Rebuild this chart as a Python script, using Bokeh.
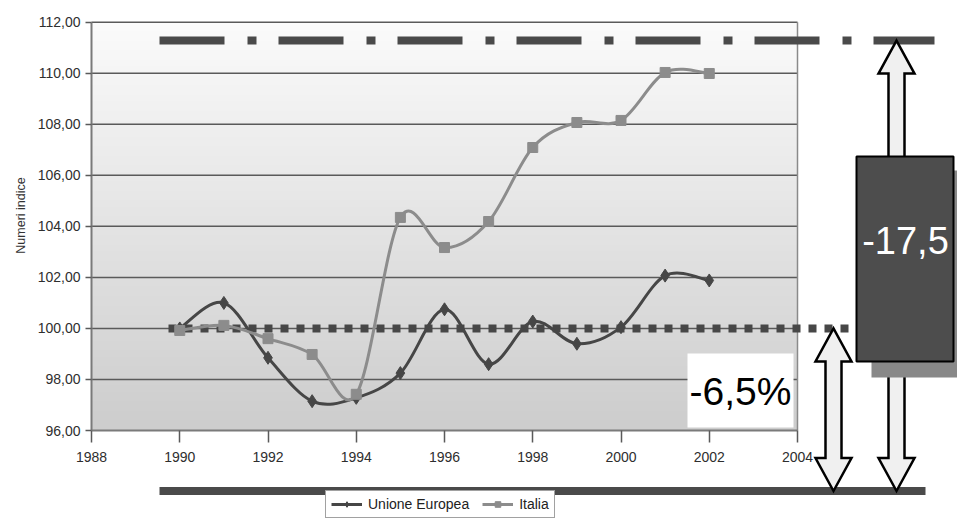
import numpy as np
from bokeh.plotting import figure
from bokeh.models import Range1d, LinearAxis, FixedTicker, Legend, LegendItem
from bokeh.core.properties import value
from bokeh.embed import file_html
from bokeh.resources import INLINE

# --- data -------------------------------------------------------------------
years = [1990, 1991, 1992, 1993, 1994, 1995, 1996, 1997, 1998, 1999, 2000, 2001, 2002]
unione_europea = [100.00, 101.00, 98.85, 97.15, 97.28, 98.25, 100.75, 98.60, 100.27, 99.40, 100.05, 102.07, 101.88]
italia = [99.92, 100.12, 99.60, 98.98, 97.42, 104.35, 103.17, 104.19, 107.09, 108.07, 108.15, 110.03, 109.99]

x_ticks = [1988, 1990, 1992, 1994, 1996, 1998, 2000, 2002, 2004]
x_tick_labels = ["1988", "1990", "1992", "1994", "1996", "1998", "2000", "2002", "2004"]
y_ticks = [96, 98, 100, 102, 104, 106, 108, 110, 112]
y_tick_labels = ["96,00", "98,00", "100,00", "102,00", "104,00", "106,00", "108,00", "110,00", "112,00"]

# reference levels used by the annotations
base_level = 100.0        # dotted line
top_level = 111.28        # dash-dot line
floor_level = 93.63       # thick bar under the axis
gap_small = "-6,5%"
gap_large = "-17,5"

# --- canvas geometry (pixels per data unit) -------------------------------
W, H = 957, 519
PX_X = 44.125
PX_Y = 25.52
X_START = 1988 - 91 / PX_X
Y_END = 112 + 21.7 / PX_Y


def sx(px):
    return X_START + px / PX_X


def sy(py):
    return Y_END - py / PX_Y


p = figure(width=W, height=H, output_backend="svg", toolbar_location=None,
           x_range=Range1d(X_START, X_START + W / PX_X),
           y_range=Range1d(Y_END - H / PX_Y, Y_END),
           x_axis_type=None, y_axis_type=None,
           min_border=0, outline_line_color=None,
           background_fill_color="white", border_fill_color="white")

FONT_NAME = "Liberation Sans"
FONT = value(FONT_NAME)

# plot-area gradient (light at the top, grey at the bottom)
rows = 128
shade = np.linspace(205, 251, rows).astype(np.uint32)
img = np.empty((rows, 2), dtype=np.uint32)
view = img.view(dtype=np.uint8).reshape((rows, 2, 4))
for k in range(rows):
    view[k, :, 0] = shade[k]
    view[k, :, 1] = shade[k]
    view[k, :, 2] = shade[k]
    view[k, :, 3] = 255
p.image_rgba(image=[img], x=x_ticks[0], y=y_ticks[0],
             dw=x_ticks[-1] - x_ticks[0], dh=y_ticks[-1] - y_ticks[0])

# horizontal grid lines across the plot area only
p.segment(x0=[x_ticks[0]] * (len(y_ticks) - 1), x1=[x_ticks[-1]] * (len(y_ticks) - 1),
          y0=y_ticks[1:], y1=y_ticks[1:], line_color="#5a5a5a", line_width=1.5)
# right border of the plot area
p.segment(x0=[x_ticks[-1]], x1=[x_ticks[-1]], y0=[y_ticks[0]], y1=[y_ticks[-1]],
          line_color="#8a8a8a", line_width=1.5)

# axes drawn at fixed data positions
xaxis = LinearAxis(fixed_location=y_ticks[0], bounds=(x_ticks[0], x_ticks[-1]),
                   ticker=FixedTicker(ticks=x_ticks),
                   major_label_overrides=dict(zip(x_ticks, x_tick_labels)))
yaxis = LinearAxis(fixed_location=x_ticks[0], bounds=(y_ticks[0], y_ticks[-1]),
                   ticker=FixedTicker(ticks=y_ticks),
                   major_label_overrides=dict(zip(y_ticks, y_tick_labels)))
for ax in (xaxis, yaxis):
    ax.axis_line_color = "#7a7a7a"
    ax.axis_line_width = 2
    ax.major_tick_line_color = "#5a5a5a"
    ax.major_tick_line_width = 1.5
    ax.minor_tick_line_color = None
    ax.major_tick_in = 0
    ax.major_label_text_font = FONT_NAME
    ax.major_label_text_color = "#2e2e2e"
xaxis.major_tick_out = 12
xaxis.major_label_standoff = 9
xaxis.major_label_text_font_size = "14px"
yaxis.major_tick_out = 6
yaxis.major_label_standoff = 5
yaxis.major_label_text_font_size = "14px"
p.add_layout(xaxis, "below")
p.add_layout(yaxis, "left")

p.text(x=[sx(20)], y=[sy(215)], text=["Numeri indice"], angle=np.pi / 2,
       text_align="center", text_baseline="middle", text_font=FONT,
       text_font_size="12.5px", text_color="#333333")

# dotted reference at 100
p.line(x=[sx(168), sx(858)], y=[base_level, base_level], line_color="#474747",
       line_width=8, line_dash="8 8", line_cap="butt")


def smooth(xs, ys, t=1 / 6):
    """Cubic Bezier pieces passing through every point (Catmull-Rom style)."""
    n = len(xs)
    out = dict(x0=[], y0=[], x1=[], y1=[], cx0=[], cy0=[], cx1=[], cy1=[])
    for i in range(n - 1):
        a, b = max(i - 1, 0), min(i + 2, n - 1)
        out["x0"].append(xs[i]); out["y0"].append(ys[i])
        out["x1"].append(xs[i + 1]); out["y1"].append(ys[i + 1])
        out["cx0"].append(xs[i] + (xs[i + 1] - xs[a]) * t)
        out["cy0"].append(ys[i] + (ys[i + 1] - ys[a]) * t)
        out["cx1"].append(xs[i + 1] - (xs[b] - xs[i]) * t)
        out["cy1"].append(ys[i + 1] - (ys[b] - ys[i]) * t)
    return out


UE_COLOR = "#464646"
IT_COLOR = "#8c8c8c"

ue_line = p.bezier(line_color=UE_COLOR, line_width=3, **smooth(years, unione_europea))
it_line = p.bezier(line_color=IT_COLOR, line_width=3, **smooth(years, italia))
ue_pts = p.scatter(years, unione_europea, marker="diamond", size=13,
                   fill_color=UE_COLOR, line_color=UE_COLOR)
it_pts = p.scatter(years, italia, marker="square", size=10,
                   fill_color=IT_COLOR, line_color=IT_COLOR)

# small gap label in a white box
p.quad(left=[sx(687)], right=[sx(793)], top=[sy(353)], bottom=[sy(427)],
       fill_color="white", line_color=None)
p.text(x=[sx(740)], y=[sy(391)], text=[gap_small], text_align="center",
       text_baseline="middle", text_font=FONT,
       text_font_size="39px", text_color="black")

# top dash-dot line and bottom bar
p.line(x=[sx(159), sx(934)], y=[top_level, top_level], line_color="#4a4a4a",
       line_width=8, line_dash="65 23 9 22", line_cap="butt")
p.line(x=[sx(159), sx(925)], y=[floor_level, floor_level], line_color="#4a4a4a",
       line_width=8, line_cap="butt")

# block arrows
SW, HW, HL = 8, 18, 33


def block_arrow(xc_px, y_top, y_bot, up=True, down=True):
    xc = sx(xc_px)
    sw, hw, hl = SW / PX_X, HW / PX_X, HL / PX_Y
    pts = []
    if up:
        pts += [(xc, y_top), (xc + hw, y_top - hl), (xc + sw, y_top - hl)]
    else:
        pts += [(xc - sw, y_top), (xc + sw, y_top)]
    if down:
        pts += [(xc + sw, y_bot + hl), (xc + hw, y_bot + hl), (xc, y_bot),
                (xc - hw, y_bot + hl), (xc - sw, y_bot + hl)]
    else:
        pts += [(xc + sw, y_bot), (xc - sw, y_bot)]
    if up:
        pts += [(xc - sw, y_top - hl), (xc - hw, y_top - hl)]
    return [q[0] for q in pts], [q[1] for q in pts]


arrows = [block_arrow(833, base_level, floor_level),
          block_arrow(896, top_level, sy(200), up=True, down=False),
          block_arrow(896, sy(330), floor_level, up=False, down=True)]
p.patches(xs=[a[0] for a in arrows], ys=[a[1] for a in arrows],
          fill_color="#f0f0f0", line_color="black", line_width=2.5, line_join="miter")

# large gap box with drop shadow
p.quad(left=[sx(871)], right=[sx(975)], top=[sy(170)], bottom=[sy(377)],
       fill_color="#888888", line_color=None)
p.quad(left=[sx(856)], right=[sx(953)], top=[sy(156)], bottom=[sy(361)],
       fill_color="#4d4d4d", line_color="black", line_width=2)
p.text(x=[sx(905)], y=[sy(240)], text=[gap_large], text_align="center",
       text_baseline="middle", text_font=FONT, text_font_size="38px",
       text_color="white")

legend = Legend(items=[LegendItem(label="Unione Europea", renderers=[ue_line, ue_pts]),
                       LegendItem(label="Italia", renderers=[it_line, it_pts])],
                location=(325, 1), orientation="horizontal",
                border_line_color="#444444", border_line_width=1.5,
                background_fill_color="white", background_fill_alpha=1,
                padding=5, spacing=13, margin=0,
                glyph_width=31, glyph_height=14, label_height=14,
                label_standoff=6, label_text_font=FONT_NAME,
                label_text_font_size="14px", label_text_color="#222222")
p.add_layout(legend)

open("out.html", "w").write(file_html(p, INLINE))
